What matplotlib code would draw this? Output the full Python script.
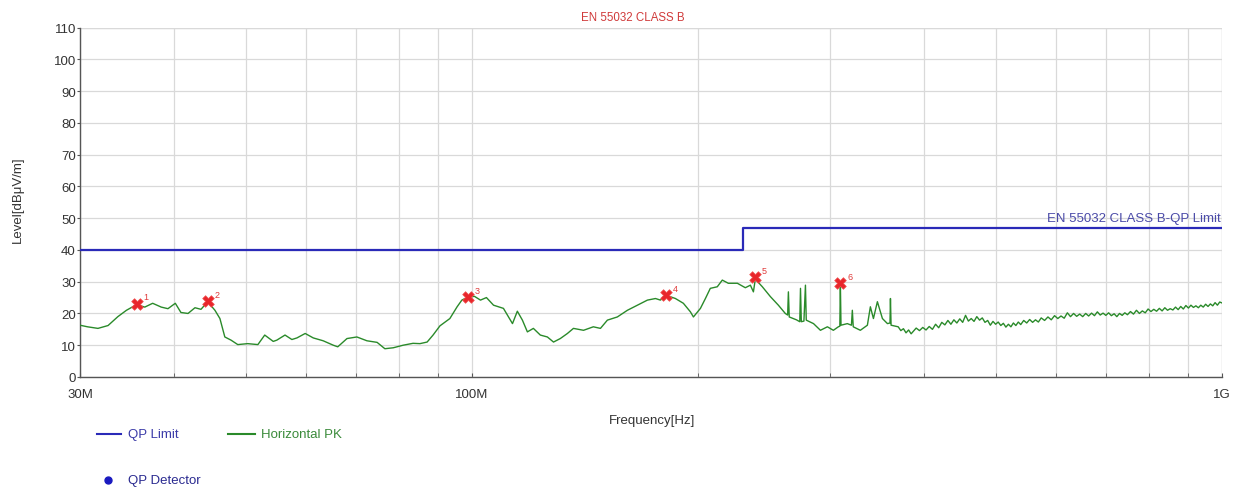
import matplotlib
matplotlib.use("Agg")
import matplotlib.pyplot as plt
from matplotlib.lines import Line2D
from matplotlib.ticker import FixedLocator, NullFormatter

plt.rcParams['font.family'] = ['Liberation Sans', 'DejaVu Sans']

# ---------------- data ----------------
title = "EN 55032 CLASS B"
limit_label = "EN 55032 CLASS B-QP Limit"

# QP limit (MHz, dBuV/m) – step function
limit_freq = [30, 230, 230, 1000]
limit_level = [40, 40, 47, 47]

# Horizontal PK trace (MHz)
trace_freq = [
    30.0, 30.7, 31.7, 32.7, 33.7, 34.6, 35.7, 36.6, 37.5, 38.5, 39.3, 40.2, 40.9, 41.8,
    42.7, 43.5, 44.4, 45.4, 46.1, 46.8, 47.7, 48.7, 50.2, 51.8, 52.9, 54.3, 54.9, 56.3,
    57.5, 58.4, 59.9, 61.4, 63.3, 65.3, 66.2, 68.1, 70.2, 72.4, 74.7, 76.5, 78.5, 80.9,
    83.4, 85.2, 87.1, 88.7, 90.6, 93.4, 95.5, 96.9, 98.4, 100.7, 102.6, 104.5, 106.8,
    110.1, 113.2, 114.9, 116.7, 118.5, 120.7, 123.3, 126.0, 128.4, 131.1, 134.0, 136.5,
    140.8, 145.1, 148.3, 151.5, 156.2, 161.1, 166.1, 171.3, 175.6, 178.3, 181.1, 186.7,
    191.3, 195.5, 197.3, 201.6, 204.7, 207.8, 212.3, 215.6, 219.6, 225.8, 231.4, 235.0,
    237.2, 238.6, 243.8, 249.9, 256.1, 261.6, 263.5, 264.1, 264.8, 270.7, 273.5, 274.1,
    274.8, 277.0, 278.3, 279.0, 285.3, 291.4, 297.7, 303.2, 307.9, 309.3, 309.8, 310.4,
    316.5, 320.5, 321.4, 322.3, 329.4, 336.6, 339.7, 342.9, 347.1, 352.5, 358.0, 360.8,
    361.3, 362.0,
    370, 373, 376, 379, 382, 385, 388, 391, 395, 399, 403, 407, 411, 415, 419, 423,
    427, 431, 435, 439, 443, 447, 451, 455, 459, 463, 467, 471, 475, 479, 483, 487,
    491, 495, 499, 503, 507, 511, 515, 519, 523, 527, 531, 535, 539, 544, 549, 554,
    559, 564, 569, 574, 580, 586, 592, 598, 604, 610, 616, 622, 628, 634, 640, 646,
    652, 658, 664, 670, 676, 682, 688, 694, 700, 706, 712, 718, 724, 730, 736, 742,
    748, 755, 762, 769, 776, 783, 790, 797, 804, 811, 818, 825, 832, 839, 846, 853,
    860, 867, 874, 881, 888, 895, 902, 909, 916, 923, 930, 937, 944, 951, 958, 965,
    972, 979, 986, 993, 1000,
]
trace_level = [
    16.3, 15.8, 15.3, 16.2, 19.0, 21.0, 22.8, 22.0, 23.2, 22.0, 21.5, 23.2, 20.3, 20.0,
    21.8, 21.3, 23.7, 21.0, 18.4, 12.6, 11.6, 10.2, 10.5, 10.2, 13.2, 11.2, 11.6, 13.2,
    11.8, 12.3, 13.7, 12.3, 11.4, 10.0, 9.5, 12.1, 12.6, 11.4, 10.9, 8.9, 9.2, 10.0,
    10.6, 10.5, 11.0, 13.2, 16.1, 18.4, 22.1, 24.2, 25.0, 25.4, 24.2, 25.0, 22.6,
    21.6, 16.8, 20.7, 17.9, 14.2, 15.3, 13.2, 12.6, 11.0, 12.1, 13.7, 15.3,
    14.7, 15.8, 15.3, 17.9, 18.9, 21.0, 22.6, 24.2, 24.7, 24.2, 25.8, 24.7,
    23.2, 20.5, 18.9, 21.6, 24.7, 27.9, 28.4, 30.5, 29.5, 29.5, 28.1, 28.9,
    26.8, 30.8, 28.4, 25.3, 22.6, 20.0, 19.5, 26.8, 18.9, 18.0, 17.4, 27.9,
    17.4, 17.6, 28.9, 17.9, 16.8, 14.7, 15.8, 14.7, 15.8, 16.0, 29.5, 16.3,
    16.8, 16.3, 21.0, 15.8, 14.7, 16.3, 22.1, 18.4, 23.7, 18.4, 16.8, 17.0,
    24.7, 16.3,
    15.8, 14.6, 15.2, 13.9, 14.8, 13.6, 14.5, 15.4, 14.6, 15.6, 14.8, 15.9, 15.0, 16.6, 15.5, 17.2,
    16.4, 17.8, 16.6, 18.0, 17.0, 18.3, 17.2, 19.4, 17.6, 18.4, 17.5, 19.0, 17.9, 18.6, 17.2, 17.8,
    16.3, 17.5, 16.6, 17.3, 16.2, 16.9, 15.7, 16.6, 15.8, 17.0, 16.2, 17.3, 16.5, 17.8, 17.0, 18.1,
    17.2, 18.0, 17.3, 18.6, 17.8, 18.9, 18.0, 19.3, 18.4, 19.2, 18.5, 20.2, 19.0, 20.0, 19.1, 19.8,
    19.0, 20.0, 19.2, 20.1, 19.3, 20.5, 19.5, 20.1, 19.4, 20.2, 19.3, 19.9, 19.0, 20.0, 19.4, 20.2,
    19.6, 20.6, 19.8, 21.0, 20.0, 20.8, 20.2, 21.4, 20.6, 21.3, 20.7, 21.6, 20.8, 21.8, 21.0, 21.5,
    21.1, 22.0, 21.2, 22.2, 21.4, 22.5, 21.7, 22.6, 21.9, 22.4, 21.8, 22.6, 22.0, 22.9, 22.2, 23.0,
    22.4, 23.4, 22.6, 23.6, 23.3,
]

# QP detector markers (MHz, dBuV/m)
marker_ids = ["1", "2", "3", "4", "5", "6"]
marker_freq = [35.7, 44.4, 98.8, 181.4, 238.2, 309.8]
marker_level = [23.1, 23.9, 25.1, 25.7, 31.5, 29.5]

y_ticks = list(range(0, 111, 10))
x_major = [30, 100, 1000]
x_major_labels = ["30M", "100M", "1G"]
x_minor = [40, 50, 60, 70, 80, 90, 200, 300, 400, 500, 600, 700, 800, 900]

# ---------------- figure ----------------
W, H = 1239, 489
fig = plt.figure(figsize=(W / 100, H / 100), dpi=100)
ax = fig.add_axes([80 / W, 1 - 378 / H, (1222 - 80) / W, (378 - 28.5) / H])

ax.set_xscale('log')
ax.set_xlim(30, 1000)
ax.set_ylim(0, 110)

grid_c = '#d9d9d9'
ax.xaxis.set_major_locator(FixedLocator(x_major))
ax.xaxis.set_minor_locator(FixedLocator(x_minor))
ax.set_xticklabels(x_major_labels)
ax.xaxis.set_minor_formatter(NullFormatter())
ax.set_yticks(y_ticks)
ax.grid(True, which='both', axis='x', color=grid_c, lw=0.9)
ax.grid(True, which='major', axis='y', color=grid_c, lw=0.9)
ax.set_axisbelow(True)

for s in ['top', 'right']:
    ax.spines[s].set_visible(False)
for s in ['left', 'bottom']:
    ax.spines[s].set_color('#555555')
    ax.spines[s].set_linewidth(1.0)

ax.tick_params(axis='x', which='both', direction='in', length=3, color='#555555',
               labelsize=9.5, pad=8, labelcolor='#333333')
ax.tick_params(axis='y', which='major', direction='out', length=2, color='#555555',
               labelsize=9.5, pad=1, labelcolor='#333333')

# extra frame lines at top and right (grid-like)
ax.axhline(110, color=grid_c, lw=0.9, zorder=0)
ax.axvline(1000, color=grid_c, lw=0.9, zorder=0)

# limit
ax.plot(limit_freq, limit_level, color='#2a2ab8', lw=1.6, zorder=3)
ax.text(995, 48.3, limit_label, color='#4a4aa8', fontsize=9.5, ha='right', va='bottom')

# trace
ax.plot(trace_freq, trace_level, color='#2a8a2a', lw=1.0, zorder=4)

# markers
ax.scatter(marker_freq, marker_level, marker='X', s=70, color='#e8262b',
           edgecolors='#f05050', linewidths=0.5, zorder=6)
for lab, f, l in zip(marker_ids, marker_freq, marker_level):
    ax.annotate(lab, (f, l), xytext=(5, 3), textcoords='offset points',
                color='#e03a3a', fontsize=6.5, zorder=7)

# title and axis labels
fig.text(633 / W, 1 - 18 / H, title, color='#d03a3a', fontsize=8.3,
         ha='center', va='center')
fig.text(652 / W, 1 - 421 / H, "Frequency[Hz]", color='#333333', fontsize=9.5,
         ha='center', va='center')
fig.text(18 / W, 1 - 200 / H, "Level[dBμV/m]", color='#333333', fontsize=9.5,
         ha='center', va='center', rotation=90)

# legend (manual)
fig.add_artist(Line2D([97 / W, 121 / W], [1 - 435 / H, 1 - 435 / H],
                      color='#2a2ab8', lw=1.5))
fig.text(128 / W, 1 - 435 / H, "QP Limit", color='#3a3aa8', fontsize=9.5,
         ha='left', va='center')
fig.add_artist(Line2D([228 / W, 255 / W], [1 - 435 / H, 1 - 435 / H],
                      color='#2a8a2a', lw=1.5))
fig.text(261 / W, 1 - 435 / H, "Horizontal PK", color='#3a8a3a', fontsize=9.5,
         ha='left', va='center')
fig.add_artist(Line2D([108 / W], [1 - 481 / H], marker='o', markersize=5,
                      color='#1a1ac0', lw=0))
fig.text(128 / W, 1 - 481 / H, "QP Detector", color='#2a2a90', fontsize=9.5,
         ha='left', va='center')

fig.savefig("out.png", dpi=100)
